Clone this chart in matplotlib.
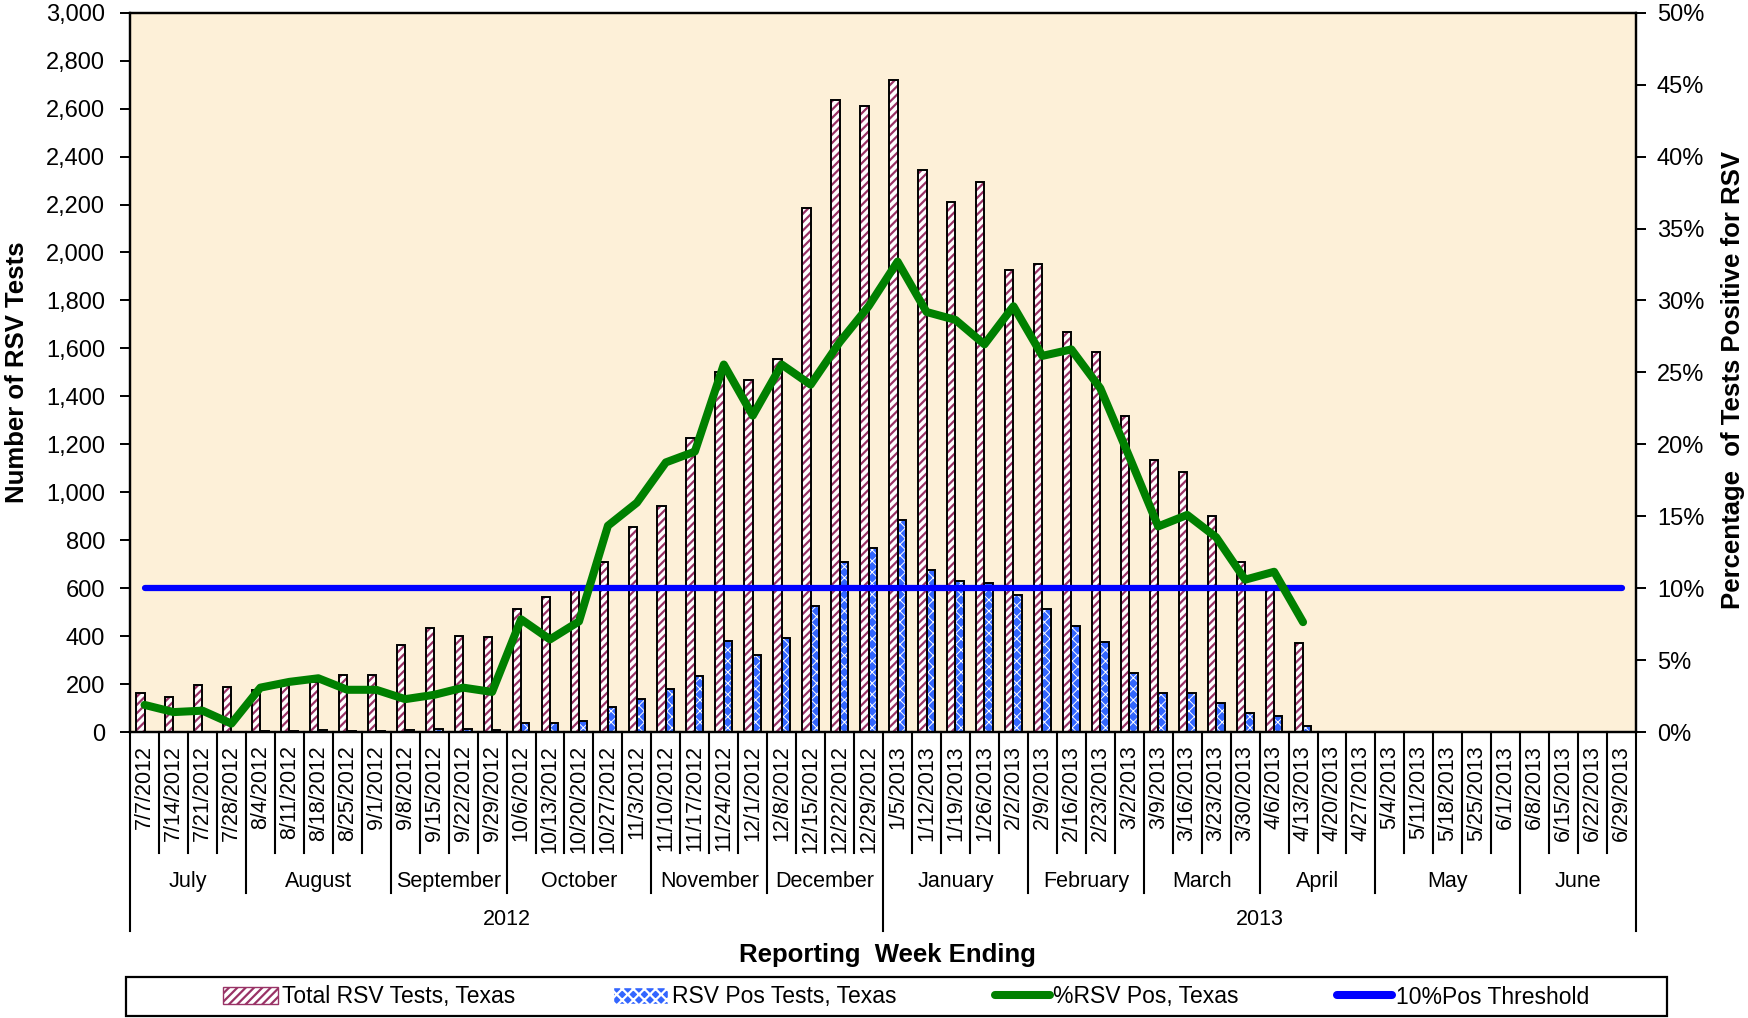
import numpy as np
import matplotlib.pyplot as plt
import matplotlib.transforms as mtransforms
from matplotlib.ticker import FuncFormatter, MultipleLocator
from matplotlib.patches import Patch, Rectangle
from matplotlib.lines import Line2D

plt.rcParams['font.family'] = ['Liberation Sans', 'DejaVu Sans']
plt.rcParams['hatch.linewidth'] = 1.6

# week ending dates, 2012-13 season
weeks = ['7/7/2012', '7/14/2012', '7/21/2012', '7/28/2012', '8/4/2012', '8/11/2012',
         '8/18/2012', '8/25/2012', '9/1/2012', '9/8/2012', '9/15/2012', '9/22/2012',
         '9/29/2012', '10/6/2012', '10/13/2012', '10/20/2012', '10/27/2012', '11/3/2012',
         '11/10/2012', '11/17/2012', '11/24/2012', '12/1/2012', '12/8/2012', '12/15/2012',
         '12/22/2012', '12/29/2012', '1/5/2013', '1/12/2013', '1/19/2013', '1/26/2013',
         '2/2/2013', '2/9/2013', '2/16/2013', '2/23/2013', '3/2/2013', '3/9/2013',
         '3/16/2013', '3/23/2013', '3/30/2013', '4/6/2013', '4/13/2013', '4/20/2013',
         '4/27/2013', '5/4/2013', '5/11/2013', '5/18/2013', '5/25/2013', '6/1/2013',
         '6/8/2013', '6/15/2013', '6/22/2013', '6/29/2013']

# reported weeks only (through 4/13/2013)
total_tests = [163, 146, 196, 188, 175, 195, 210, 240, 238, 363, 435, 403, 395, 512,
               562, 595, 711, 854, 945, 1228, 1502, 1468, 1554, 2185, 2635, 2611, 2719,
               2343, 2211, 2294, 1928, 1952, 1669, 1586, 1319, 1136, 1087, 902, 711, 595, 371]
pos_tests = [3, 2, 3, 1, 5, 7, 8, 7, 7, 8, 12, 12, 11, 40, 38, 46, 104, 137, 180, 236,
             379, 320, 394, 528, 711, 770, 885, 677, 630, 621, 571, 513, 445, 378, 246,
             163, 163, 121, 79, 69, 28]
pct_pos = [1.9, 1.4, 1.5, 0.6, 3.1, 3.5, 3.75, 2.95, 2.95, 2.3, 2.6, 3.1, 2.8, 7.85,
           6.45, 7.7, 14.35, 15.95, 18.75, 19.5, 25.55, 22.0, 25.55, 24.15, 27.1, 29.6,
           32.7, 29.2, 28.65, 26.95, 29.6, 26.15, 26.6, 23.9, 19.15, 14.3, 15.1, 13.55,
           10.6, 11.15, 7.65]
threshold = 10

months = ['July', 'August', 'September', 'October', 'November', 'December',
          'January', 'February', 'March', 'April', 'May', 'June']
month_weeks = [4, 5, 4, 5, 4, 4, 5, 4, 4, 4, 5, 4]
years = ['2012', '2013']
year_weeks = [26, 26]

n = len(weeks)
k = len(total_tests)
x = np.arange(n)
w = 0.29

fig = plt.figure(figsize=(17.48, 10.18), dpi=100)
ax = fig.add_axes([0.0744, 0.2807, 0.8616, 0.7069])
ax.set_facecolor('#fdf0d8')

# total tests: maroon hatch on white, black outline
ax.bar(x[:k] - w / 2, total_tests, w, color='white', edgecolor='#993366',
       hatch='////', lw=0, zorder=2)
ax.bar(x[:k] - w / 2, total_tests, w, fill=False, edgecolor='black', lw=1.4, zorder=3)
# positive tests: blue with small white checks
pos_bars = ax.bar(x[:k] + w / 2, pos_tests, w, color='#3366ff', edgecolor='white',
                  hatch='xxx', lw=0, zorder=2)
for b in pos_bars:
    try:
        b.set_hatch_linewidth(0.7)
    except AttributeError:
        pass
ax.bar(x[:k] + w / 2, pos_tests, w, fill=False, edgecolor='black', lw=1.4, zorder=3)

ax.set_xlim(-0.5, n - 0.5)
ax.set_ylim(0, 3000)
ax.yaxis.set_major_locator(MultipleLocator(200))
ax.yaxis.set_major_formatter(FuncFormatter(lambda v, p: f'{int(v):,}'))
ax.set_xticks([])
ax.tick_params(axis='y', direction='out', length=7, width=1.4, labelsize=17, pad=11)
for s in ax.spines.values():
    s.set_linewidth(1.6)

ax2 = ax.twinx()
ax2.set_ylim(0, 50)
ax2.yaxis.set_major_locator(MultipleLocator(5))
ax2.yaxis.set_major_formatter(FuncFormatter(lambda v, p: f'{int(v)}%'))
ax2.tick_params(axis='y', direction='out', length=7, width=1.4, labelsize=17, pad=8)
for s in ax2.spines.values():
    s.set_linewidth(1.6)

ax2.plot(x, [threshold] * n, color='#0000ff', lw=4.5, solid_capstyle='round', zorder=4)
ax2.plot(x[:k], pct_pos, color='#008000', lw=5.8, solid_capstyle='round',
         solid_joinstyle='round', zorder=5)

# category axis: date boxes, months, years
trans = mtransforms.blended_transform_factory(ax.transData, ax.transAxes)
month_edges = np.cumsum([0] + month_weeks)
year_edges = np.cumsum([0] + year_weeks)
for b in range(n + 1):
    if b in year_edges:
        y_low = -0.2757
    elif b in month_edges:
        y_low = -0.2229
    else:
        y_low = -0.1673
    ax.plot([b - 0.5, b - 0.5], [0, y_low], transform=trans, color='black',
            lw=1.5, clip_on=False)

for i, lab in enumerate(weeks):
    ax.text(i, -0.018, lab, rotation=90, ha='center', va='top', transform=trans,
            fontsize=15.5)
for j, m in enumerate(months):
    c = (month_edges[j] + month_edges[j + 1]) / 2 - 0.5
    ax.text(c, -0.2076, m, ha='center', va='center', transform=trans, fontsize=15.5)
for j, yr in enumerate(years):
    c = (year_edges[j] + year_edges[j + 1]) / 2 - 0.5
    ax.text(c, -0.2608, yr, ha='center', va='center', transform=trans, fontsize=15.5)

fig.text(17 / 1748, 1 - 372 / 1018, 'Number of RSV Tests', rotation=90, ha='center',
         va='center', fontsize=18.5, fontweight='bold')
fig.text(1733 / 1748, 1 - 380 / 1018, 'Percentage  of Tests Positive for RSV',
         rotation=90, ha='center', va='center', fontsize=18.5, fontweight='bold')
fig.text(887 / 1748, 1 - 955 / 1018, 'Reporting  Week Ending', ha='center',
         va='center', fontsize=18.5, fontweight='bold')

# legend box
fig.patches.append(Rectangle((126 / 1748, 1 - 1016 / 1018), (1667 - 126) / 1748,
                             39 / 1018, transform=fig.transFigure, facecolor='white',
                             edgecolor='black', lw=1.6, zorder=0))
handles = [Patch(facecolor='white', edgecolor='#993366', hatch='////'),
           Patch(facecolor='#3366ff', edgecolor='white', hatch='xxx'),
           Line2D([], [], color='#008000', lw=5.8, solid_capstyle='round'),
           Line2D([], [], color='#0000ff', lw=5.8, solid_capstyle='round')]
labels = ['Total RSV Tests, Texas', 'RSV Pos Tests, Texas', '%RSV Pos, Texas',
          '10%Pos Threshold']
leg = fig.legend(handles, labels, loc='center', bbox_to_anchor=(906 / 1748, 1 - 997 / 1018),
                 ncol=4, frameon=False, fontsize=16.5, handlelength=2.4, handleheight=0.7,
                 handletextpad=0.15, columnspacing=4.3)

fig.savefig('out.png', dpi=100)
